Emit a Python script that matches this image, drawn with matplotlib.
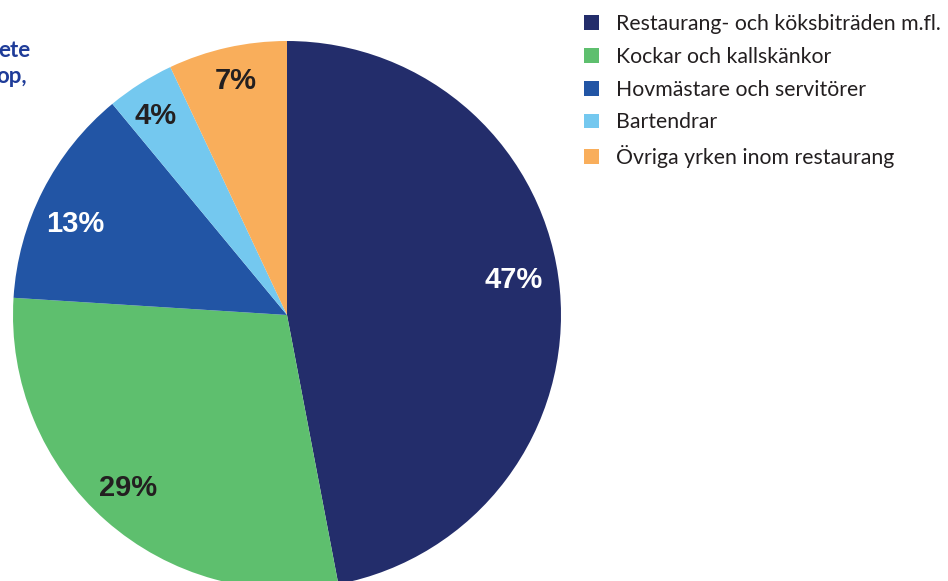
import matplotlib
matplotlib.use('Agg')
from matplotlib import pyplot as plt

# Andel per yrke inom restaurang
labels = ['Restaurang- och köksbiträden m.fl.',
          'Kockar och kallskänkor',
          'Hovmästare och servitörer',
          'Bartendrar',
          'Övriga yrken inom restaurang']
shares = [47, 29, 13, 4, 7]
colors = ['#232d6b', '#5ebf6e', '#2255a5', '#74c8ef', '#f9ae5b']
pct_colors = ['white', '#231f20', 'white', '#231f20', '#231f20']
# small hand nudges (px) of the percent labels, like the original layout
nudge = [(-8, 13), (-3, 4), (-2, -16), (-5, 0), (0, 4)]

fig = plt.figure(figsize=(9.48, 5.81), dpi=100)
ax = fig.add_axes([0, 0, 1, 1])

wedges, texts, autotexts = ax.pie(
    shares, colors=colors, startangle=90, counterclock=False,
    center=(287, 266), radius=274, frame=True,
    autopct='%d%%', pctdistance=0.86,
    wedgeprops=dict(linewidth=0))
ax.set_xlim(0, 948)
ax.set_ylim(0, 581)
ax.set_aspect('equal')
ax.axis('off')

for t, c, (dx, dy) in zip(autotexts, pct_colors, nudge):
    x, y = t.get_position()
    t.set_position((x + dx, y + dy))
    t.set_color(c)
    t.set_fontsize(21)
    t.set_fontweight('bold')
    t.set_family('Liberation Sans')

# cropped heading at the left edge (cut off in the original too)
fig.text(30 / 948, 1 - 57 / 581, 'ete', ha='right', va='baseline',
         color='#1f3c99', fontsize=16, fontweight='bold', family='Lato')
fig.text(27 / 948, 1 - 83 / 581, 'op,', ha='right', va='baseline',
         color='#1f3c99', fontsize=16, fontweight='bold', family='Lato')

leg = ax.legend(wedges, labels, loc='upper left',
                bbox_to_anchor=(565 / 948, 1 + 5 / 581),
                frameon=False, handlelength=0.7, handleheight=0.7,
                handletextpad=0.8, labelspacing=0.6,
                prop=dict(family='Lato', size=15.3))
for t in leg.get_texts():
    t.set_color('#231f20')

fig.savefig('out.png', dpi=100)
